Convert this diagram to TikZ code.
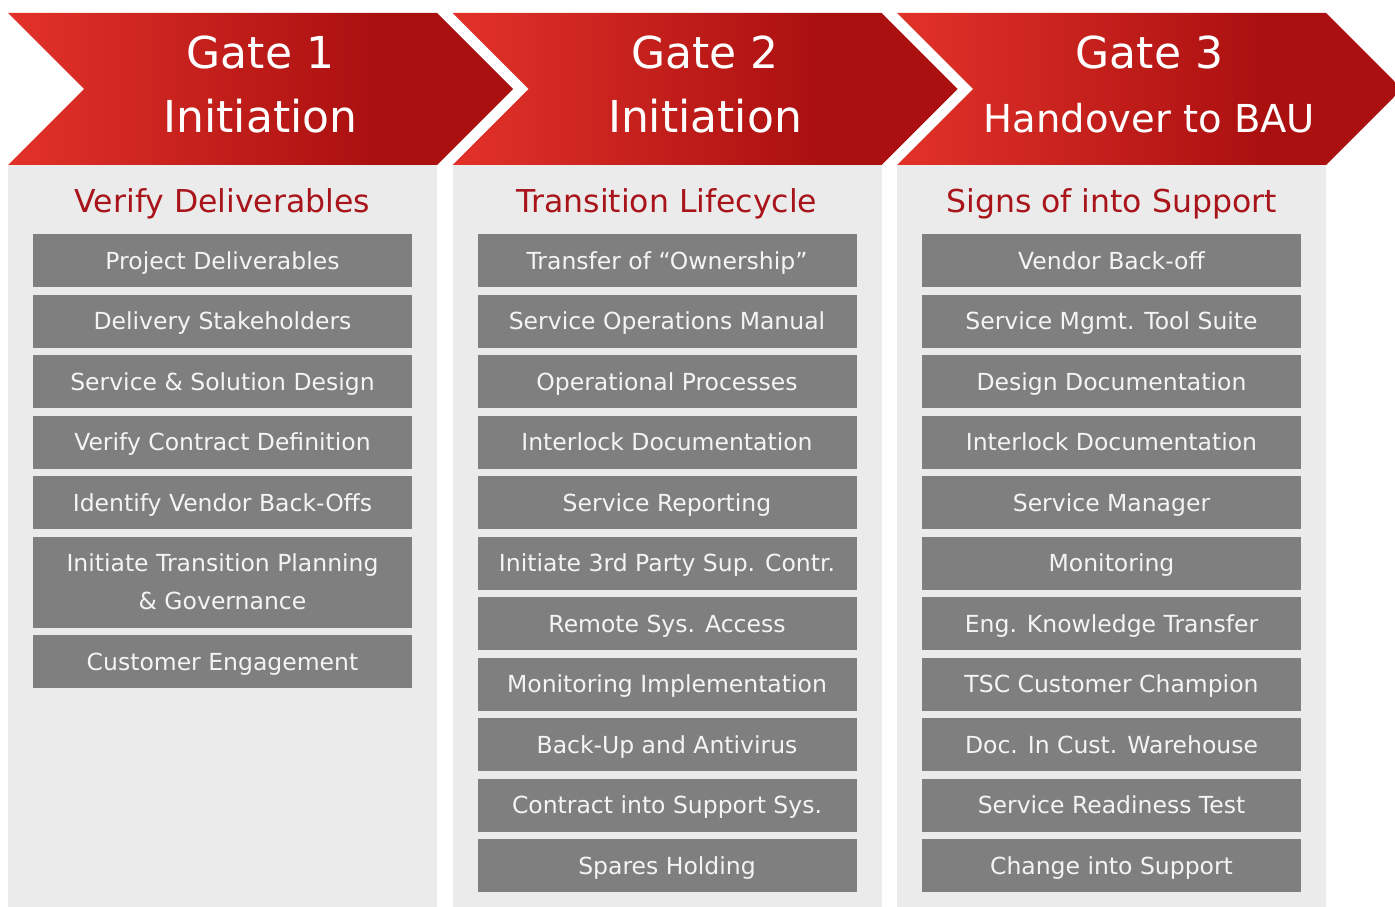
\documentclass[tikz,border=0pt]{standalone}
\usepackage{fontspec}
\setmainfont{DejaVu Sans}
\definecolor{gateL}{HTML}{E2322A}
\definecolor{gateR}{HTML}{AB1010}
\definecolor{panel}{HTML}{EBEBEB}
\definecolor{itembg}{HTML}{7F7F7F}
\definecolor{itemfg}{HTML}{F4F4F4}
\definecolor{headred}{HTML}{A8141A}
% left-to-right red gradient, dark from about 72% of the width on
\pgfdeclarehorizontalshading{gateshade}{100bp}{color(0bp)=(gateL); color(25bp)=(gateL); color(61bp)=(gateR); color(100bp)=(gateR)}
\tikzset{
  itembox/.style={fill=itembg, text=itemfg, minimum width=379pt, minimum height=53pt,
    inner sep=0pt, text height=17.5pt, text depth=0pt,
    font=\fontsize{23.5}{38}\selectfont, anchor=north},
  gatetitle/.style={text=white, anchor=base, inner sep=0pt},
  heading/.style={text=headred, font=\fontsize{31.5}{32}\selectfont, anchor=base, inner sep=0pt},
  chevron/.style={shading=gateshade},
  panelbg/.style={fill=panel}
}
\begin{document}
\begin{tikzpicture}[x=1pt,y=-1pt]
\useasboundingbox (0,0) rectangle (1395,907);
\clip (0,0) rectangle (1395,907);

% gate chevrons and the grey column panels below them
\foreach \x in {8,452.5,897} {
  \shade[chevron] (\x,13) -- ++(429,0) -- ++(76,76) -- ++(-76,76) -- ++(-429,0) -- ++(76,-76) -- cycle;
  \fill[panelbg] (\x,165) rectangle ++(429,742);
}

% gate titles
\node[gatetitle, font=\fontsize{44}{44}\selectfont] (g1a) at (260.5,69) {Gate 1};
\node[gatetitle, font=\fontsize{44}{44}\selectfont] (g1b) at (260.5,132) {Initiation};
\node[gatetitle, font=\fontsize{44}{44}\selectfont] (g2a) at (705,69) {Gate 2};
\node[gatetitle, font=\fontsize{44}{44}\selectfont] (g2b) at (705,132) {Initiation};
\node[gatetitle, font=\fontsize{44}{44}\selectfont] (g3a) at (1149.5,69) {Gate 3};
\node[gatetitle, font=\fontsize{38.5}{40}\selectfont] (g3b) at (1149.5,132) {Handover to BAU};

% column headings
\node[heading] (h1) at (222.5,212) {Verify Deliverables};
\node[heading] (h2) at (667,212) {Transition Lifecycle};
\node[heading] (h3) at (1111.5,212) {Signs of into Support};

% column 1
\foreach \t [count=\i from 0] in {Project Deliverables, Delivery Stakeholders,
    Service \& Solution Design, Verify Contract Definition, Identify Vendor Back-Offs} {
  \node[itembox] (c1b\i) at (222.5,234+60.5*\i) {\t};
}
\node[itembox, minimum height=91pt, text height=55.5pt, text depth=0pt, align=center] (c1b5) at (222.5,536.5)
  {Initiate Transition Planning\\\& Governance};
\node[itembox] (c1b6) at (222.5,635) {Customer Engagement};

% column 2
\foreach \t [count=\i from 0] in {Transfer of “Ownership”, Service Operations Manual,
    Operational Processes, Interlock Documentation, Service Reporting,
    Initiate 3rd Party Sup. Contr., Remote Sys. Access, Monitoring Implementation,
    Back-Up and Antivirus, Contract into Support Sys., Spares Holding} {
  \node[itembox] (c2b\i) at (667,234+60.5*\i) {\t};
}

% column 3
\foreach \t [count=\i from 0] in {Vendor Back-off, Service Mgmt. Tool Suite,
    Design Documentation, Interlock Documentation, Service Manager, Monitoring,
    Eng. Knowledge Transfer, TSC Customer Champion, Doc. In Cust. Warehouse,
    Service Readiness Test, Change into Support} {
  \node[itembox] (c3b\i) at (1111.5,234+60.5*\i) {\t};
}
\end{tikzpicture}
\end{document}
